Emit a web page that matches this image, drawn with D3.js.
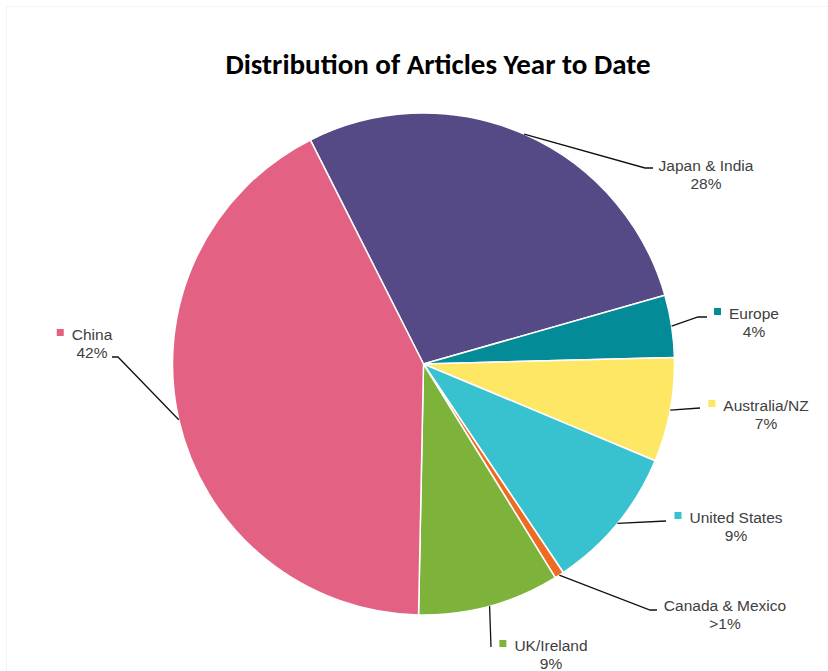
<!DOCTYPE html>
<html>
<head>
<meta charset="utf-8">
<script src="https://cdn.jsdelivr.net/npm/d3@7"></script>
<style>
  body { margin: 0; background: #fff; }
  svg { display: block; }
</style>
</head>
<body>
<svg id="chart" width="828" height="671"></svg>
<script>
// Regions, in clockwise order starting at the top-left slice edge
const categories = ["Japan & India", "Europe", "Australia/NZ", "United States", "Canada & Mexico", "UK/Ireland", "China"];
// Share of articles, percent
const shares = [28.0, 4.0, 6.7, 9.3, 0.6, 9.1, 42.2];
const sliceColors = ["#554a85", "#038b97", "#ffe766", "#38c2d0", "#ef6b24", "#7db33a", "#e36283"];
// Whether a region's label carries a colour key square
const showKey = [false, true, true, true, false, true, true];

const title = "Distribution of Articles Year to Date";

// Label placement: text centre, and leader line bend/end points
const labelLayout = {
  "Japan & India":   { cx: 706, cy: 165, leader: [[645, 168], [653, 168]] },
  "Europe":          { cx: 754, cy: 313, leader: [[698, 317], [707, 317]] },
  "Australia/NZ":    { cx: 766, cy: 405, leader: [[700, 408]] },
  "United States":   { cx: 736, cy: 517, leader: [[666, 521]] },
  "Canada & Mexico": { cx: 725, cy: 605, leader: [[650, 610], [657, 610]] },
  "UK/Ireland":      { cx: 551, cy: 645, leader: [[491, 647]] },
  "China":           { cx: 92,  cy: 334, leader: [[118, 357], [112, 357]] }
};

const data = categories.map((c, i) => ({
  name: c, share: shares[i], color: sliceColors[i], key: showKey[i]
}));

const svg = d3.select("#chart");
const cx = 423.5, cy = 364, radius = 251;
const startDeg = -26.8;
const start = startDeg * Math.PI / 180;

// faint chart-area border
svg.append("rect")
  .attr("x", 6.5).attr("y", 6.5)
  .attr("width", 830).attr("height", 680)
  .attr("fill", "none").attr("stroke", "#f4f4f4");

svg.append("text")
  .attr("x", 438).attr("y", 74)
  .attr("text-anchor", "middle")
  .attr("font-family", "Calibri, Carlito, 'Open Sans', sans-serif")
  .attr("font-weight", "bold")
  .attr("font-size", 29)
  .attr("fill", "#000")
  .text(title);

const pie = d3.pie()
  .sort(null)
  .value(d => d.share)
  .startAngle(start)
  .endAngle(start + 2 * Math.PI);

const arcs = pie(data);
const arc = d3.arc().innerRadius(0).outerRadius(radius);
const rim = d3.arc().innerRadius(radius).outerRadius(radius);

const g = svg.append("g").attr("transform", `translate(${cx},${cy})`);

g.selectAll("path.slice")
  .data(arcs)
  .join("path")
  .attr("class", "slice")
  .attr("d", arc)
  .attr("fill", d => d.data.color)
  .attr("stroke", "#fff")
  .attr("stroke-width", 1.5)
  .attr("stroke-linejoin", "round");

// leader lines from the slice rim to the labels
const line = d3.line();
svg.selectAll("path.leader")
  .data(arcs)
  .join("path")
  .attr("class", "leader")
  .attr("d", d => {
    const [x, y] = rim.centroid(d);
    return line([[cx + x, cy + y], ...labelLayout[d.data.name].leader]);
  })
  .attr("fill", "none")
  .attr("stroke", "#111")
  .attr("stroke-width", 1.3);

const pctText = v => v < 1 ? ">1%" : Math.round(v) + "%";
const fontFamily = "'Century Gothic', 'Liberation Sans', Arial, sans-serif";

const labels = svg.selectAll("g.label")
  .data(arcs)
  .join("g")
  .attr("class", "label")
  .attr("font-family", fontFamily)
  .attr("font-size", 15.5)
  .attr("fill", "#404040");

labels.each(function (d) {
  const lay = labelLayout[d.data.name];
  const sel = d3.select(this);
  const txt = sel.append("text")
    .attr("text-anchor", "middle");
  const t1 = txt.append("tspan")
    .attr("x", lay.cx).attr("y", lay.cy + 5.5)
    .text(d.data.name);
  txt.append("tspan")
    .attr("x", lay.cx).attr("y", lay.cy + 23.5)
    .text(pctText(d.data.share));
  if (d.data.key) {
    const w = t1.node().getComputedTextLength();
    const s = 7;
    sel.append("rect")
      .attr("x", lay.cx - w / 2 - 11.5 - s / 2)
      .attr("y", lay.cy - 1.5 - s / 2)
      .attr("width", s).attr("height", s)
      .attr("fill", d.data.color);
  }
});
</script>
</body>
</html>
